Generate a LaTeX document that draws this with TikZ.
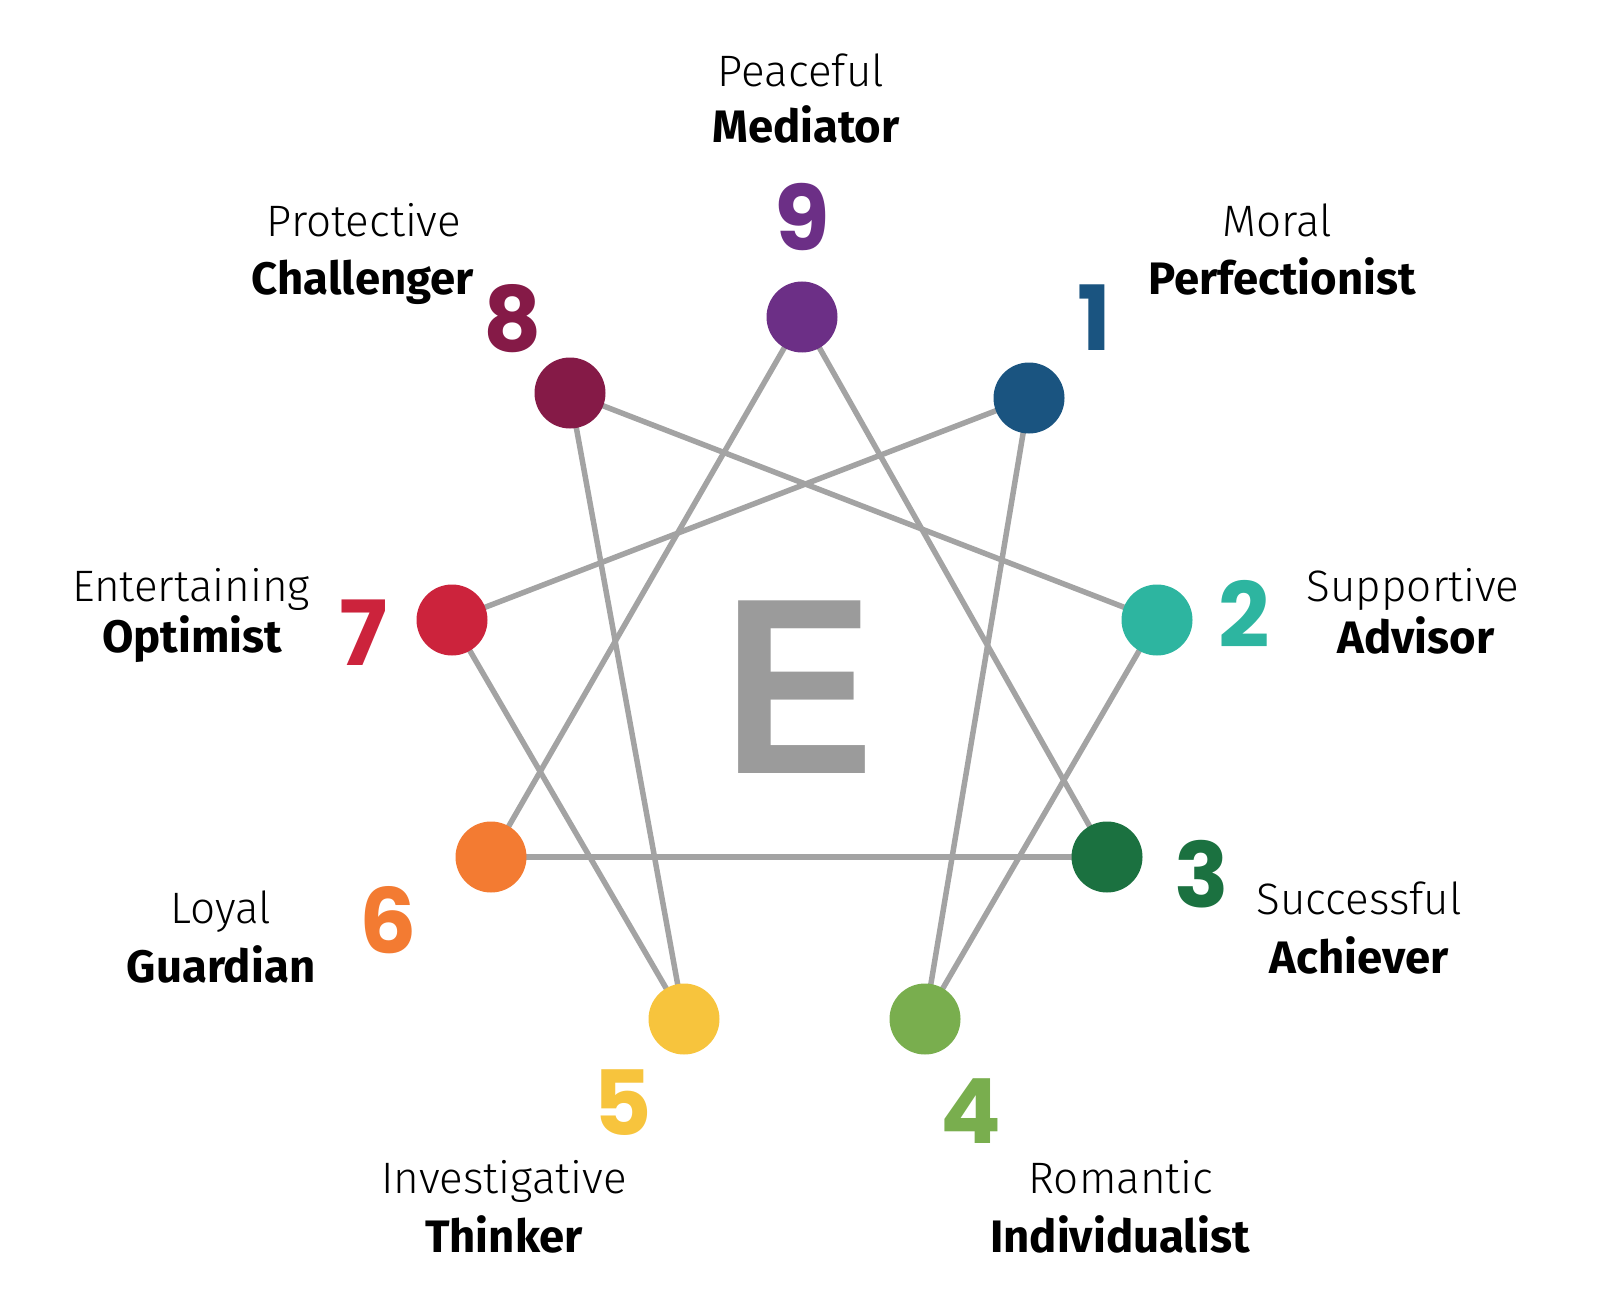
\documentclass[tikz,border=0pt]{standalone}
\usepackage{fontspec}
\usetikzlibrary{backgrounds}
\newfontfamily\lightfont{Fira Sans Light}
\newfontfamily\boldfont{Fira Sans Bold}
\newfontfamily\numfont{Poppins Bold}
\newfontfamily\efont{Liberation Sans Bold}
\definecolor{c9}{HTML}{6C2F86}
\definecolor{c1}{HTML}{1A5480}
\definecolor{c2}{HTML}{2DB5A0}
\definecolor{c3}{HTML}{1B7140}
\definecolor{c4}{HTML}{79AE4E}
\definecolor{c5}{HTML}{F7C43D}
\definecolor{c6}{HTML}{F37B32}
\definecolor{c7}{HTML}{CC233C}
\definecolor{c8}{HTML}{851A47}
\definecolor{egray}{HTML}{9B9B9B}
\definecolor{lgray}{HTML}{A3A3A3}
\tikzset{
  dot/.style={circle, minimum size=71pt, inner sep=0pt, fill=#1},
  num/.style={font=\numfont\fontsize{90}{96}\selectfont, text=#1, anchor=base, inner sep=0pt},
  ltlabel/.style={font=\lightfont\fontsize{44}{50}\selectfont, anchor=base, inner sep=0pt},
  bdlabel/.style={font=\boldfont\fontsize{45.5}{50}\selectfont, anchor=base, inner sep=0pt},
  link/.style={draw=lgray, line width=5.5pt}
}
\begin{document}
\begin{tikzpicture}[x=1pt,y=-1pt]
\useasboundingbox (0,0) rectangle (1600,1313);
% circles
\node[dot=c9] (p9) at (802,317) {};
\node[dot=c1] (p1) at (1029,398) {};
\node[dot=c2] (p2) at (1157,620) {};
\node[dot=c3] (p3) at (1107,857) {};
\node[dot=c4] (p4) at (925,1019) {};
\node[dot=c5] (p5) at (684,1019) {};
\node[dot=c6] (p6) at (491,857) {};
\node[dot=c7] (p7) at (452,620) {};
\node[dot=c8] (p8) at (570,393) {};
% connectors
\begin{scope}[on background layer]
\draw[link] (p9.center) -- (p3.center);
\draw[link] (p3.center) -- (p6.center);
\draw[link] (p6.center) -- (p9.center);
\draw[link] (p1.center) -- (p4.center);
\draw[link] (p4.center) -- (p2.center);
\draw[link] (p2.center) -- (p8.center);
\draw[link] (p8.center) -- (p5.center);
\draw[link] (p5.center) -- (p7.center);
\draw[link] (p7.center) -- (p1.center);
\end{scope}
% central letter
\node[font=\efont\fontsize{251}{251}\selectfont, text=egray, anchor=base, inner sep=0pt] (E) at (798.5,773) {\scalebox{0.9}[1]{E}};
% numbers
\node[num=c9] (n9) at (802,251) {9};
\node[num=c1] (n1) at (1094,350) {1};
\node[num=c2] (n2) at (1244,647) {2};
\node[num=c3] (n3) at (1202,907) {3};
\node[num=c4] (n4) at (971,1143) {4};
\node[num=c5] (n5) at (623,1135) {5};
\node[num=c6] (n6) at (388,953) {6};
\node[num=c7] (n7) at (364,665) {7};
\node[num=c8] (n8) at (513,352) {8};
% labels
\node[ltlabel] (l9a) at (801,87) {Peaceful};
\node[bdlabel] (l9b) at (806,143) {Mediator};
\node[ltlabel] (l8a) at (364,237) {Protective};
\node[bdlabel] (l8b) at (363,295) {Challenger};
\node[ltlabel] (l1a) at (1277,237) {Moral};
\node[bdlabel] (l1b) at (1282,295) {Perfectionist};
\node[ltlabel] (l7a) at (191,601) {Entertaining};
\node[bdlabel] (l7b) at (192,652) {Optimist};
\node[ltlabel] (l2a) at (1413,601) {Supportive};
\node[bdlabel] (l2b) at (1416,653) {Advisor};
\node[ltlabel] (l6a) at (221,923) {Loyal};
\node[bdlabel] (l6b) at (221,982) {Guardian};
\node[ltlabel] (l3a) at (1359,914) {Successful};
\node[bdlabel] (l3b) at (1359,973) {Achiever};
\node[ltlabel] (l5a) at (504,1193) {Investigative};
\node[bdlabel] (l5b) at (504,1252) {Thinker};
\node[ltlabel] (l4a) at (1121,1193) {Romantic};
\node[bdlabel] (l4b) at (1120,1252) {Individualist};
\end{tikzpicture}
\end{document}
